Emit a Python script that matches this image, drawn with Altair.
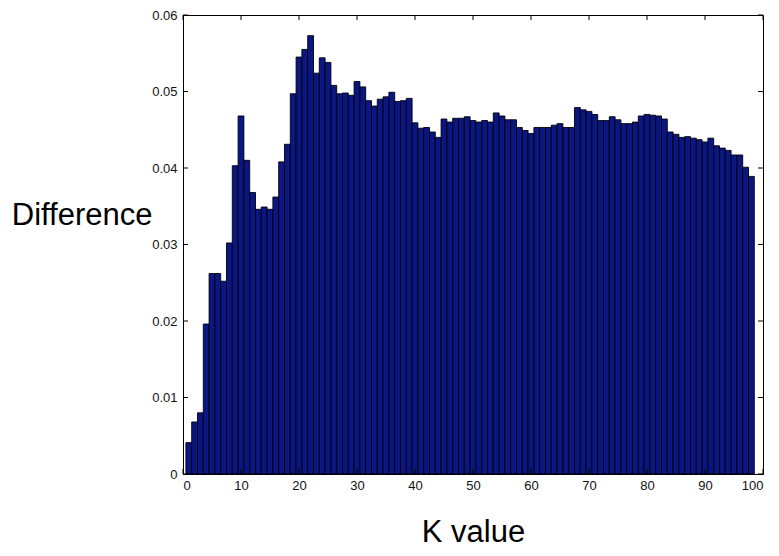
import altair as alt
import pandas as pd

# ---- data ----
k_values = list(range(1, 99))
differences = [
    0.0041, 0.0068, 0.0080, 0.0196, 0.0262, 0.0262, 0.0252, 0.0302, 0.0403, 0.0468,
    0.0410, 0.0368, 0.0346, 0.0349, 0.0346, 0.0362, 0.0408, 0.0431, 0.0497, 0.0545,
    0.0555, 0.0573, 0.0524, 0.0544, 0.0538, 0.0508, 0.0497, 0.0498, 0.0495, 0.0513,
    0.0506, 0.0488, 0.0481, 0.0490, 0.0493, 0.0499, 0.0487, 0.0488, 0.0491, 0.0459,
    0.0452, 0.0453, 0.0447, 0.0440, 0.0464, 0.0460, 0.0465, 0.0465, 0.0467, 0.0462,
    0.0460, 0.0462, 0.0460, 0.0472, 0.0468, 0.0463, 0.0463, 0.0453, 0.0449, 0.0445,
    0.0453, 0.0453, 0.0453, 0.0456, 0.0458, 0.0453, 0.0453, 0.0479, 0.0476, 0.0474,
    0.0470, 0.0462, 0.0462, 0.0467, 0.0463, 0.0458, 0.0458, 0.0460, 0.0468, 0.0470,
    0.0469, 0.0468, 0.0464, 0.0447, 0.0444, 0.0440, 0.0441, 0.0439, 0.0437, 0.0434,
    0.0439, 0.0429, 0.0426, 0.0423, 0.0417, 0.0417, 0.0401, 0.0389,
]
x_ticks = [0, 10, 20, 30, 40, 50, 60, 70, 80, 90, 100]
y_ticks = [0, 0.01, 0.02, 0.03, 0.04, 0.05, 0.06]

W, H = 580, 459
TICK = 5
FONT = "Liberation Sans"

bars_df = pd.DataFrame({"k": k_values, "diff": differences})
xt_df = pd.DataFrame({"v": x_ticks})
yt_df = pd.DataFrame({"v": y_ticks})

xscale = alt.Scale(domain=[0, 100], nice=False, zero=False)
yscale = alt.Scale(domain=[0, 0.06], nice=False)

x_axis = alt.Axis(
    values=x_ticks, tickSize=0, labelPadding=5, grid=False,
    domainColor="black", title="K value", titleFontSize=31,
    titleFontWeight="normal", titleBaseline="alphabetic",
    titleX=W / 2, titleY=67, titleColor="black",
)
y_axis = alt.Axis(
    values=y_ticks, tickSize=0, labelPadding=6, grid=False,
    domainColor="black", title="Difference", titleFontSize=31,
    titleFontWeight="normal", titleAngle=0, titleAlign="right",
    titleBaseline="middle", titleX=-31, titleY=200, titleColor="black",
    labelExpr="datum.value == 0 ? '0' : format(datum.value, '.2f')",
)

bars = (
    alt.Chart(bars_df)
    .transform_calculate(lo="datum.k - 0.5", hi="datum.k + 0.5")
    .mark_rect(fill="#0b1685", stroke="black", strokeWidth=0.9)
    .encode(
        x=alt.X("lo:Q", scale=xscale, axis=x_axis),
        x2="hi:Q",
        y=alt.Y("diff:Q", scale=yscale, axis=y_axis),
        y2=alt.datum(0),
    )
)

yt_left = alt.Chart(yt_df).mark_rule(color="black").encode(
    y=alt.Y("v:Q", scale=yscale, axis=y_axis), x=alt.value(0), x2=alt.value(TICK)
)
yt_right = alt.Chart(yt_df).mark_rule(color="black").encode(
    y=alt.Y("v:Q", scale=yscale, axis=y_axis), x=alt.value(W - TICK), x2=alt.value(W)
)
xt_bottom = alt.Chart(xt_df).mark_rule(color="black").encode(
    x=alt.X("v:Q", scale=xscale, axis=x_axis), y=alt.value(H), y2=alt.value(H - TICK)
)
xt_top = alt.Chart(xt_df).mark_rule(color="black").encode(
    x=alt.X("v:Q", scale=xscale, axis=x_axis), y=alt.value(0), y2=alt.value(TICK)
)

chart = (
    alt.layer(bars, yt_left, yt_right, xt_bottom, xt_top)
    .properties(
        width=W, height=H,
        autosize=alt.AutoSizeParams(type="none"),
        padding={"left": 175, "top": 7, "right": 8, "bottom": 74},
        background="white",
    )
    .configure_view(stroke="black", strokeWidth=1)
    .configure_axis(labelFont=FONT, titleFont=FONT, labelFontSize=13, labelColor="#111")
)

chart.save("out.html", embed_options={"renderer": "svg", "actions": False})
